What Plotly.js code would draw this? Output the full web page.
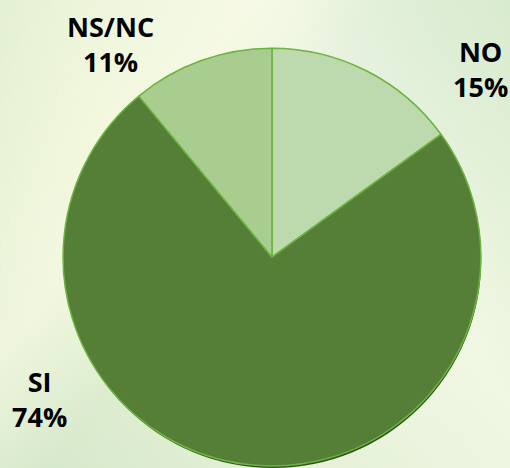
<!DOCTYPE html>
<html><head><meta charset="utf-8">
<script src="https://cdn.plot.ly/plotly-3.0.1.min.js"></script>
<style>
html,body{margin:0;padding:0;}
#bg{position:absolute;left:0;top:0;width:510px;height:468px;overflow:hidden;
background:
 linear-gradient(125deg, rgba(255,255,240,0.0) 0%, rgba(255,255,235,0.55) 30%, rgba(255,255,255,0) 45%),
 linear-gradient(60deg, rgba(200,225,190,0.6) 0%, rgba(235,245,215,0.3) 40%, rgba(245,250,235,0.6) 70%, rgba(215,235,205,0.7) 100%),
 radial-gradient(ellipse at 80% 10%, #d6e8d2 0%, rgba(220,235,210,0) 50%),
 linear-gradient(180deg, #e5f0d2 0%, #eef5d8 50%, #e4f0d8 100%);}
#chart{position:absolute;left:0;top:0;width:510px;height:468px;}
</style></head>
<body><div id="bg"></div><div id="chart"></div>
<script>
const categories = ["NO", "SI", "NS/NC"];
const values = [15, 74, 11];
const sliceColors = ["#bdd9ae", "#557f36", "#a8cd8f"];

const total = values.reduce((a,b)=>a+b,0);
const pct = values.map(v => Math.round(v/total*100) + "%");

const pieDomain = {x:[0.1235, 0.943], y:[0.0043, 0.897]};
const shadowDomain = {x:[0.1255, 0.945], y:[-0.003, 0.8897]};

const traces = [
 {type:"pie", values:[1], labels:["shadow"], sort:false, hoverinfo:"skip",
  marker:{colors:["#2e5418"], line:{width:0}}, textinfo:"none", domain:shadowDomain, showlegend:false},
 {type:"pie", values:values, labels:categories, sort:false, direction:"clockwise", rotation:0,
  marker:{colors:sliceColors, line:{color:"#6db33f", width:1.5}},
  textinfo:"none", domain:pieDomain, showlegend:false}
];

const labelPos = [
 {x:0.943, y:0.853},
 {x:0.078, y:0.147},
 {x:0.216, y:0.905}
];
const annotations = categories.map((c,i)=>({
 text: c + "<br>" + pct[i], x: labelPos[i].x, y: labelPos[i].y,
 xref:"paper", yref:"paper", showarrow:false, xanchor:"center", yanchor:"middle",
 font:{family:"Open Sans", size:27, color:"#000000", weight:"bold"}
}));

Plotly.newPlot("chart", traces, {
 width:510, height:468, margin:{l:0,r:0,t:0,b:0},
 paper_bgcolor:"rgba(0,0,0,0)", plot_bgcolor:"rgba(0,0,0,0)",
 showlegend:false, annotations:annotations
}, {displayModeBar:false, staticPlot:true});
</script></body></html>
